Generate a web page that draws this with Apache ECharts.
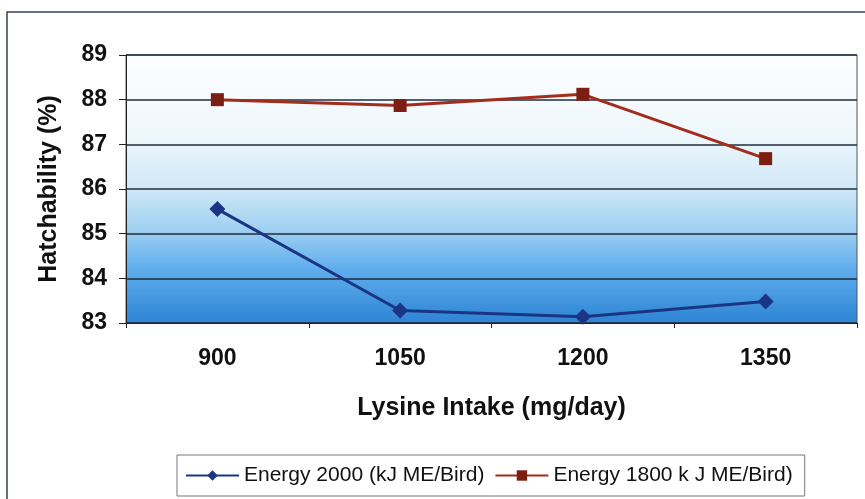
<!DOCTYPE html>
<html>
<head>
<meta charset="utf-8">
<script src="https://cdn.jsdelivr.net/npm/echarts@6/dist/echarts.min.js"></script>
<style>
  html, body { margin: 0; padding: 0; background: #fff; }
  #chart { width: 865px; height: 499px; }
</style>
</head>
<body>
<div id="chart"></div>
<script>
// lysine intake levels (mg/day)
const categories = ['900', '1050', '1200', '1350']
const energy2000 = [85.55, 83.28, 83.14, 83.48]
const energy1800 = [88.0, 87.87, 88.12, 86.68]
const yTicks = { min: 83, max: 89, step: 1 }

const font = '"Liberation Sans", Arial, sans-serif'
const chart = echarts.init(document.getElementById('chart'))

const option = {
    animation: false,
    graphic: [{
        type: 'rect',
        shape: { x: 7, y: 12, width: 900, height: 600 },
        style: { fill: 'none', stroke: '#3a3f5c', lineWidth: 1.5 },
        silent: true
    }],
    grid: {
        left: 126, right: 8, top: 55, bottom: 176,
        show: true,
        borderColor: '#555',
        borderWidth: 1,
        backgroundColor: new echarts.graphic.LinearGradient(0, 0, 0, 1, [
            { offset: 0, color: '#fdfeff' },
            { offset: 0.3, color: '#eef7fc' },
            { offset: 0.5, color: '#cfe8f7' },
            { offset: 0.65, color: '#9fd0f1' },
            { offset: 0.8, color: '#5faded' },
            { offset: 1, color: '#2d84d4' }
        ])
    },
    xAxis: {
        type: 'category',
        data: categories,
        boundaryGap: true,
        name: 'Lysine Intake (mg/day)',
        nameLocation: 'middle',
        nameGap: 73,
        nameTextStyle: { fontFamily: font, fontSize: 25, fontWeight: 'bold', color: '#111' },
        axisLine: { lineStyle: { color: '#222', width: 1 } },
        axisTick: { show: true, length: 5, lineStyle: { color: '#222' } },
        axisLabel: { fontFamily: font, fontSize: 23, fontWeight: 'bold', color: '#111', margin: 24 }
    },
    yAxis: {
        type: 'value',
        min: yTicks.min,
        max: yTicks.max,
        interval: yTicks.step,
        name: 'Hatchability (%)',
        nameLocation: 'middle',
        nameRotate: 90,
        nameGap: 64,
        nameTextStyle: { fontFamily: font, fontSize: 25, fontWeight: 'bold', color: '#111' },
        axisLine: { show: true, lineStyle: { color: '#222', width: 1 } },
        axisTick: { show: true, length: 7, lineStyle: { color: '#222' } },
        axisLabel: { fontFamily: font, fontSize: 23, fontWeight: 'bold', color: '#111', margin: 19 },
        splitLine: { show: true, lineStyle: { color: '#1f2d3d', width: 1.5 } }
    },
    legend: {
        left: 177,
        top: 455,
        padding: [10, 12, 10, 8],
        itemGap: 10,
        itemWidth: 53,
        itemHeight: 13,
        borderColor: '#777',
        borderWidth: 1,
        backgroundColor: '#fff',
        textStyle: { fontFamily: font, fontSize: 21, color: '#111' },
        data: ['Energy 2000 (kJ ME/Bird)', 'Energy 1800 k J ME/Bird)']
    },
    series: [
        {
            name: 'Energy 2000 (kJ ME/Bird)',
            type: 'line',
            data: energy2000,
            symbol: 'diamond',
            symbolSize: 16,
            lineStyle: { color: '#1b3584', width: 3 },
            itemStyle: { color: '#1b3584' }
        },
        {
            name: 'Energy 1800 k J ME/Bird)',
            type: 'line',
            data: energy1800,
            symbol: 'rect',
            symbolSize: 13,
            lineStyle: { color: '#a32d1c', width: 3 },
            itemStyle: { color: '#7d1e12' }
        }
    ]
}

chart.setOption(option)
</script>
</body>
</html>
